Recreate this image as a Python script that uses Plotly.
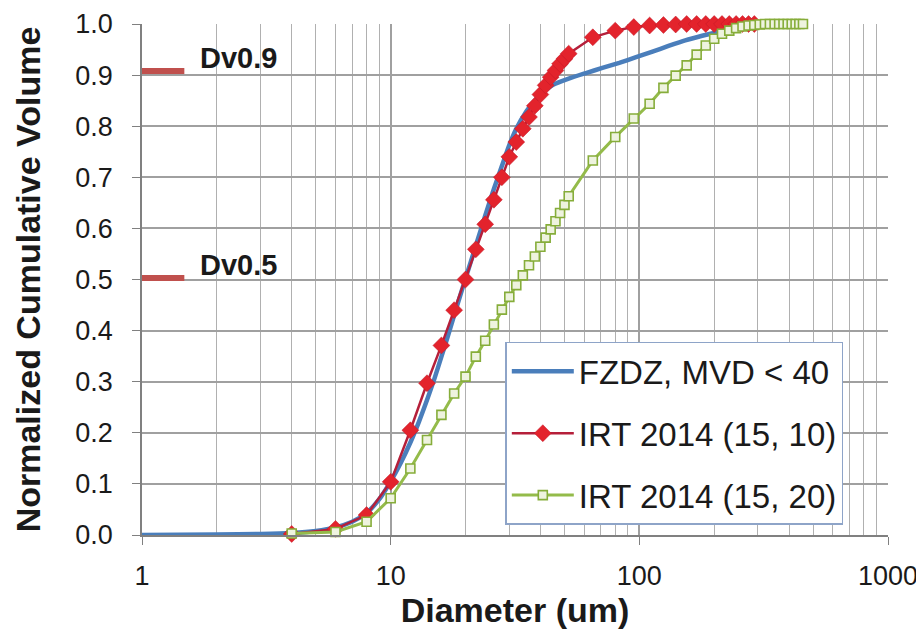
import plotly.graph_objects as go

# ---------------- data ----------------
fzdz_x = [1, 2, 3, 4, 5, 6, 7, 8, 9, 10, 11, 12, 13, 14, 15, 16, 17, 18, 19, 20,
          22, 24, 26, 28, 30, 32, 35, 38, 40, 42, 45, 52, 61, 71, 83, 97, 113, 131,
          153, 179, 209, 240, 270, 300, 350, 400]
fzdz_y = [0.0, 0.001, 0.002, 0.004, 0.008, 0.015, 0.026, 0.043, 0.07, 0.105, 0.142,
          0.181, 0.222, 0.264, 0.306, 0.349, 0.39, 0.43, 0.467, 0.502,
          0.566, 0.625, 0.677, 0.722, 0.763, 0.795, 0.828, 0.85, 0.862, 0.871, 0.881,
          0.893, 0.904, 0.914, 0.924, 0.935, 0.946, 0.957, 0.968, 0.977, 0.985, 0.992,
          0.997, 1.0, 1.0, 1.0]

irt10_x = [4, 6, 8, 10, 12, 14, 16, 18, 20, 22, 24, 26, 28, 30, 32, 34, 36, 38, 40,
           42, 44, 46, 48, 50, 52, 65, 80, 95, 110, 125, 140, 155, 170, 185, 200,
           215, 230, 245, 260, 275, 290]
irt10_y = [0.002, 0.012, 0.039, 0.104, 0.205, 0.297, 0.371, 0.44, 0.50, 0.559, 0.608,
           0.656, 0.70, 0.74, 0.769, 0.795, 0.818, 0.84, 0.862, 0.88, 0.896, 0.909,
           0.922, 0.932, 0.942, 0.974, 0.987, 0.994, 0.997, 0.998, 0.999, 1.0, 1.0,
           1.0, 1.0, 1.0, 1.0, 1.0, 1.0, 1.0, 1.0]

irt20_x = [4, 6, 8, 10, 12, 14, 16, 18, 20, 22, 24, 26, 28, 30, 32, 34, 36, 38, 40,
           42, 44, 46, 48, 50, 52, 65, 80, 95, 110, 125, 140, 155, 170, 185, 200,
           215, 230, 245, 260, 275, 290, 305, 320, 335, 350, 365, 380, 395, 410, 425,
           440, 455]
irt20_y = [0.003, 0.006, 0.026, 0.072, 0.13, 0.186, 0.235, 0.277, 0.31, 0.349, 0.38,
           0.412, 0.441, 0.466, 0.489, 0.508, 0.528, 0.545, 0.564, 0.582, 0.598, 0.614,
           0.63, 0.646, 0.663, 0.733, 0.779, 0.815, 0.844, 0.875, 0.899, 0.919, 0.94,
           0.958, 0.971, 0.981, 0.987, 0.992, 0.995, 0.997, 0.998, 0.999, 1.0, 1.0,
           1.0, 1.0, 1.0, 1.0, 1.0, 1.0, 1.0, 1.0]

series_names = ["FZDZ, MVD < 40", "IRT 2014 (15, 10)", "IRT 2014 (15, 20)"]

dv_labels = ["Dv0.9", "Dv0.5"]
dv_levels = [0.908, 0.503]
dv_x = [1, 1.48]

y_ticks = [0.0, 0.1, 0.2, 0.3, 0.4, 0.5, 0.6, 0.7, 0.8, 0.9, 1.0]
x_ticks = [1, 10, 100, 1000]
x_title = "Diameter (um)"
y_title = "Normalized Cumulative Volume"

FONT = "Liberation Sans, Arial, sans-serif"
TXT = "#1a1a1a"

fig = go.Figure()

for lvl in dv_levels:
    fig.add_trace(go.Scatter(x=dv_x, y=[lvl, lvl], mode="lines",
                             line=dict(color="#C0504D", width=6),
                             showlegend=False, hoverinfo="skip", cliponaxis=False))

fig.add_trace(go.Scatter(x=fzdz_x, y=fzdz_y, name=series_names[0], mode="lines",
                         line=dict(color="#4A7EBB", width=4.5, shape="spline", smoothing=0.6),
                         legendgroup="a"))
fig.add_trace(go.Scatter(x=irt10_x, y=irt10_y, name=series_names[1], mode="lines+markers",
                         line=dict(color="#B51F3A", width=2.5),
                         marker=dict(symbol="diamond", size=13, color="#E3232C",
                                     line=dict(color="#C01828", width=0.5)),
                         cliponaxis=False, legendgroup="b"))
fig.add_trace(go.Scatter(x=irt20_x, y=irt20_y, name=series_names[2], mode="lines+markers",
                         line=dict(color="#94BB4A", width=3),
                         marker=dict(symbol="square", size=9, color="#EEF3DF",
                                     line=dict(color="#86AD3A", width=1.6)),
                         cliponaxis=False, legendgroup="c"))

for lab, lvl in zip(dv_labels, dv_levels):
    fig.add_annotation(text="<b>%s</b>" % lab, xref="paper", yref="y",
                       x=0.075, y=lvl + 0.026, xanchor="left", yanchor="middle",
                       showarrow=False, font=dict(family=FONT, size=29, color=TXT))

# page body has an 8px margin, so the figure is sized to the remaining window
fig.update_layout(
    width=916, height=625,
    margin=dict(l=134, r=36, t=16, b=98),
    paper_bgcolor="white", plot_bgcolor="white",
    font=dict(family=FONT, color=TXT),
    showlegend=True,
    legend=dict(x=0.487, y=0.378, xanchor="left", yanchor="top",
                bgcolor="white", bordercolor="#8EA4C8", borderwidth=1.5,
                font=dict(family=FONT, size=33, color=TXT),
                tracegroupgap=16, itemwidth=62),
    xaxis=dict(type="log", range=[0, 3], tickvals=x_ticks, ticktext=[str(v) for v in x_ticks],
               automargin=False,
               showgrid=True, gridcolor="#A0A0A0", gridwidth=1.5,
               minor=dict(dtick="D1", showgrid=True, gridcolor="#B0B0B0", gridwidth=1.3),
               showline=True, linecolor="#808080", linewidth=1.5,
               ticks="outside", ticklen=8, tickcolor="#808080",
               tickfont=dict(family=FONT, size=27, color=TXT),
               ticklabelstandoff=8,
               title=dict(text="<b>%s</b>" % x_title, font=dict(family=FONT, size=34, color=TXT),
                          standoff=8),
               zeroline=False),
    yaxis=dict(range=[0, 1.0], tickvals=y_ticks, ticktext=["%.1f" % v for v in y_ticks],
               automargin=False,
               showgrid=True, gridcolor="#A0A0A0", gridwidth=1.5,
               showline=True, linecolor="#808080", linewidth=1.5,
               ticks="outside", ticklen=8, tickcolor="#808080",
               tickfont=dict(family=FONT, size=27, color=TXT),
               ticklabelstandoff=14,
               title=dict(text="<b>%s</b>" % y_title, font=dict(family=FONT, size=34, color=TXT),
                          standoff=24),
               zeroline=False),
)

fig.write_html("out.html")
